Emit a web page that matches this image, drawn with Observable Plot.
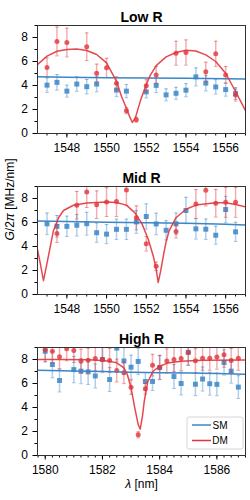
<!DOCTYPE html>
<html><head><meta charset="utf-8">
<script src="https://cdn.jsdelivr.net/npm/d3@7"></script>
<script src="https://cdn.jsdelivr.net/npm/@observablehq/plot@0.6"></script>
<style>
body{margin:0;background:#fff;font-family:"Liberation Sans",Arial,sans-serif;}
#chart svg{display:block;}
</style></head><body><div id="chart"></div>
<script>
const BLUE = "#3b86c6", RED = "#e2353c";
const FONT = '"Liberation Sans", Arial, sans-serif';

// ---- Low R ----
const lowSM_x = [1547,1547.5,1548,1548.5,1549,1549.5,1550.5,1551,1552,1552.5,1553,1553.5,1554,1554.5,1555,1555.5,1556,1556.5];
const lowSM_y = [4.03,4.26,3.53,4.12,3.9,4.12,3.62,3.53,3.47,4.01,3.22,3.35,3.61,4.72,4.2,3.88,3.66,3.33];
const lowSM_e = [0.6,0.65,0.5,0.6,0.6,0.65,0.55,0.55,0.5,0.6,0.5,0.5,0.55,0.75,0.65,0.6,0.55,0.5];
const lowDM_x = [1547,1547.5,1548,1549,1549.5,1550,1550.5,1551,1551.5,1552,1552.5,1553.5,1554,1555,1555.5,1556,1556.5];
const lowDM_y = [5.5,7.67,7.58,7.23,5.03,5.47,4.18,1.9,1.15,3.98,4.88,6.69,6.75,5.14,6.64,4.88,3.2];
const lowDM_e = [0.8,1.2,1.2,1.15,0.75,0.8,0.55,0.25,0.2,0.5,0.7,1.0,1.05,0.8,1.05,0.7,0.5];
const lowSMfit_x = [1546.5,1548,1550,1552,1554,1556,1557];
const lowSMfit_y = [4.72,4.68,4.64,4.62,4.6,4.57,4.55];
const lowDMfit_x = [1546.5,1547,1547.5,1548,1548.5,1549,1549.5,1550,1550.5,1550.75,1551,1551.15,1551.3,1551.45,1551.7,1551.96,1552.2,1552.5,1553,1553.5,1554,1554.5,1555,1555.5,1556,1556.5,1557];
const lowDMfit_y = [5.72,6.45,6.85,7.0,7.05,6.92,6.58,5.88,4.35,3.1,2.1,1.45,0.92,1.3,2.7,3.9,4.85,5.66,6.38,6.75,6.93,6.87,6.55,6.0,5.02,3.5,1.9];

// ---- Mid R ----
const midSM_x = [1547,1547.5,1548,1548.5,1549,1549.5,1550,1550.5,1551,1551.5,1552,1552.5,1553,1553.5,1554,1554.5,1555,1555.5,1556,1556.5];
const midSM_y = [5.89,5.68,5.68,5.77,5.9,5.15,5.03,5.43,5.43,6.05,6.5,5.88,5.35,5.89,7.0,5.47,5.44,4.94,7.08,5.22];
const midSM_e = [0.9,0.9,0.85,0.9,0.95,0.8,0.8,0.85,0.85,0.95,1.05,0.9,0.8,0.9,1.1,0.85,0.85,0.75,1.1,0.8];
const midDM_x = [1547.5,1548.5,1549,1549.5,1550,1550.5,1551,1551.5,1552,1552.5,1553.5,1554.5,1555,1555.5,1556,1556.5];
const midDM_y = [5.08,7.44,8.55,7.48,7.7,7.75,8.7,6.39,4.22,2.35,5.26,7.55,8.68,7.61,7.68,7.68];
const midDM_e = [0.75,1.15,1.3,1.15,1.2,1.25,1.3,1.0,0.6,0.35,0.55,1.2,1.3,1.15,1.25,1.25];
const midSMfit_x = [1546.5,1548,1550,1552,1554,1556,1557];
const midSMfit_y = [6.12,6.08,6.02,5.98,5.93,5.86,5.8];
const midDMfit_x = [1546.5,1546.66,1546.82,1546.95,1547.07,1547.32,1547.58,1547.83,1548.33,1549,1550,1550.5,1551,1551.43,1551.77,1552.1,1552.37,1552.5,1552.6,1552.72,1552.87,1553,1553.15,1553.5,1554,1554.5,1555.5,1556,1556.5,1557];
const midDMfit_y = [3.9,2.6,1.15,2.2,3.2,5.3,6.4,7.0,7.44,7.62,7.7,7.67,7.45,6.8,5.95,4.6,3.1,2.1,1.0,1.9,3.3,4.4,5.3,6.4,7.1,7.45,7.64,7.64,7.5,7.3];

// ---- High R ----
const highSM_x = [1580,1580.25,1580.5,1581,1581.25,1581.5,1581.75,1582,1582.25,1582.5,1582.75,1583,1583.25,1583.5,1583.75,1584,1584.5,1584.75,1585,1585.25,1585.5,1585.75,1586,1586.25,1586.5,1586.75];
const highSM_y = [8.69,7.58,6.25,7.16,7.03,6.97,6.63,8.0,6.33,8.95,7.88,7.36,7.84,6.17,6.17,7.32,6.58,6.0,8.6,5.94,6.37,5.98,5.93,7.75,7.03,5.7];
const highSM_e = [0.9,1.1,0.95,1.1,1.05,1.05,1.0,1.1,1.0,1.1,1.1,1.0,1.1,0.75,0.75,1.0,1.0,0.95,1.1,0.95,1.0,0.95,0.95,1.05,1.0,0.95];
const highDM_x = [1580,1580.25,1580.5,1580.75,1581,1581.25,1581.5,1581.75,1582,1582.25,1582.5,1582.75,1583,1583.25,1583.5,1583.75,1584,1584.25,1584.5,1584.75,1585,1585.25,1585.5,1585.75,1586,1586.25,1586.5,1586.75];
const highDM_y = [8.83,8.69,8.22,8.89,8.75,7.86,7.94,8.08,8.03,7.92,7.08,6.89,5.69,1.72,5.56,7.53,7.35,7.88,8.0,8.08,8.58,7.9,8.1,8.1,8.2,8.4,7.92,8.1];
const highDM_e = [1.0,1.0,1.0,1.0,1.0,1.0,1.0,1.0,1.0,1.0,0.95,0.9,0.6,0.25,0.45,0.9,1.0,1.0,1.0,1.0,1.05,1.0,1.0,1.0,1.0,1.05,1.0,1.0];
const highSMfit_x = [1579.7,1581,1582,1583,1584,1585,1586,1587];
const highSMfit_y = [7.1,7.05,7.0,6.93,6.9,6.87,6.83,6.78];
const highDMfit_x = [1579.7,1580.5,1581.5,1582,1582.25,1582.5,1582.75,1582.87,1583,1583.13,1583.25,1583.32,1583.4,1583.46,1583.58,1583.76,1584,1584.28,1584.75,1585.5,1587];
const highDMfit_y = [8.0,7.99,7.97,7.92,7.85,7.72,7.3,6.75,5.64,3.97,2.58,2.2,3.3,4.5,6.1,7.0,7.44,7.7,7.86,7.93,7.95];

// ---- ticks / labels ----
const titles = ["Low R", "Mid R", "High R"];
const yMajor = [0,2,4,6,8];
const yMinor = [1,3,5,7,9];
const xMajorLow = [1548,1550,1552,1554,1556];
const xMajorHigh = [1580,1582,1584,1586];
const yLabel = "G/2π [MHz/nm]";
const xLabel = "λ [nm]";
const legendLabels = ["SM", "DM"];

const zip = (xs, ys, es) => xs.map((x, i) => ({x, y: ys[i], e: es ? es[i] : 0}));
const cap = {draw(ctx, size) { const r = Math.sqrt(size / Math.PI); ctx.moveTo(-r, 0); ctx.lineTo(r, 0); }};

function errMarks(data, color) {
  return [
    Plot.ruleX(data, {x: "x", y1: d => d.y - d.e, y2: d => d.y + d.e, stroke: color, strokeOpacity: 0.4, strokeWidth: 1.5, clip: true}),
    Plot.dot(data, {x: "x", y: d => d.y + d.e, symbol: cap, r: 1.8, stroke: color, strokeOpacity: 0.5, strokeWidth: 1, fill: "none", clip: true}),
    Plot.dot(data, {x: "x", y: d => d.y - d.e, symbol: cap, r: 1.8, stroke: color, strokeOpacity: 0.5, strokeWidth: 1, fill: "none", clip: true})
  ];
}

function panel(o) {
  return Plot.plot({
    width: 250, height: o.height,
    marginLeft: 37, marginRight: 5, marginTop: 25, marginBottom: o.marginBottom,
    style: {fontFamily: FONT, fontSize: "12px", color: "#000", background: "#fff", overflow: "visible"},
    x: {domain: o.xDomain},
    y: {domain: [0, 9]},
    marks: [
      Plot.axisY({ticks: yMajor, tickSize: 4.5, tickPadding: 5, label: null, fontSize: 12}),
      Plot.axisY({ticks: yMinor, tickSize: 2.5, text: null, label: null}),
      Plot.axisX({ticks: o.xMajor, tickSize: 4.5, tickPadding: 5, label: null, fontSize: 12, tickFormat: d => String(d)}),
      Plot.axisX({ticks: o.xMinor, tickSize: 2.5, text: null, label: null}),
      ...errMarks(o.sm, BLUE),
      Plot.dot(o.sm, {x: "x", y: "y", symbol: "square", r: 2.8, fill: BLUE, fillOpacity: 0.85, clip: true}),
      ...errMarks(o.dm, RED),
      Plot.dot(o.dm, {x: "x", y: "y", symbol: "circle", r: 2.5, fill: RED, fillOpacity: 0.8, clip: true}),
      Plot.line(o.smFit, {x: "x", y: "y", stroke: BLUE, strokeWidth: 1.5, clip: true}),
      Plot.line(o.dmFit, {x: "x", y: "y", stroke: RED, strokeWidth: 1.5, strokeOpacity: 0.9, clip: true}),
      Plot.frame({stroke: "#333", strokeWidth: 1}),
      Plot.text([o.title], {text: d => d, frameAnchor: "top", dy: -13, fontSize: 14, fontWeight: "bold"}),
      ...(o.extra || [])
    ]
  });
}

const chart = document.getElementById("chart");

const svg1 = panel({
  title: titles[0], height: 161, marginBottom: 28,
  xDomain: [1546.52, 1557], xMajor: xMajorLow, xMinor: d3.range(1547, 1557.01, 0.5),
  sm: zip(lowSM_x, lowSM_y, lowSM_e), dm: zip(lowDM_x, lowDM_y, lowDM_e),
  smFit: zip(lowSMfit_x, lowSMfit_y), dmFit: zip(lowDMfit_x, lowDMfit_y)
});
const svg2 = panel({
  title: titles[1], height: 161, marginBottom: 28,
  xDomain: [1546.52, 1557], xMajor: xMajorLow, xMinor: d3.range(1547, 1557.01, 0.5),
  sm: zip(midSM_x, midSM_y, midSM_e), dm: zip(midDM_x, midDM_y, midDM_e),
  smFit: zip(midSMfit_x, midSMfit_y), dmFit: zip(midDMfit_x, midDMfit_y),
  extra: [Plot.text([yLabel], {text: d => d, frameAnchor: "left", rotate: -90, dx: -27, fontSize: 12})]
});
const svg3 = panel({
  title: titles[2], height: 178, marginBottom: 45,
  xDomain: [1579.73, 1587], xMajor: xMajorHigh, xMinor: d3.range(1579.75, 1587.01, 0.25),
  sm: zip(highSM_x, highSM_y, highSM_e), dm: zip(highDM_x, highDM_y, highDM_e),
  smFit: zip(highSMfit_x, highSMfit_y), dmFit: zip(highDMfit_x, highDMfit_y),
  extra: [Plot.text([xLabel], {text: d => d, frameAnchor: "bottom", dy: 32, fontSize: 12})]
});

// italic parts of labels
d3.select(svg2).selectAll("text").filter(function() { return this.textContent === yLabel; }).each(function() {
  const t = d3.select(this); t.text("");
  t.append("tspan").attr("font-style", "italic").text("G");
  t.append("tspan").text("/2");
  t.append("tspan").attr("font-style", "italic").text("π");
  t.append("tspan").text(" [MHz/nm]");
});
d3.select(svg3).selectAll("text").filter(function() { return this.textContent === xLabel; }).each(function() {
  const t = d3.select(this); t.text("");
  t.append("tspan").attr("font-style", "italic").text("λ");
  t.append("tspan").text(" [nm]");
});

// legend (lower right of High R panel)
const lg = d3.select(svg3).append("g").attr("font-family", FONT).attr("font-size", 10);
lg.append("rect").attr("x", 187).attr("y", 95).attr("width", 56).attr("height", 32).attr("rx", 2)
  .attr("fill", "#fff").attr("fill-opacity", 0.85).attr("stroke", "#ccc").attr("stroke-width", 0.8);
[[legendLabels[0], BLUE, 103], [legendLabels[1], RED, 118.5]].forEach(([lab, col, y]) => {
  lg.append("line").attr("x1", 192).attr("x2", 211).attr("y1", y).attr("y2", y).attr("stroke", col).attr("stroke-width", 1.5);
  lg.append("text").attr("x", 220).attr("y", y).attr("dy", "0.35em").attr("fill", "#000").text(lab);
});

chart.append(svg1, svg2, svg3);
</script>
</body></html>
